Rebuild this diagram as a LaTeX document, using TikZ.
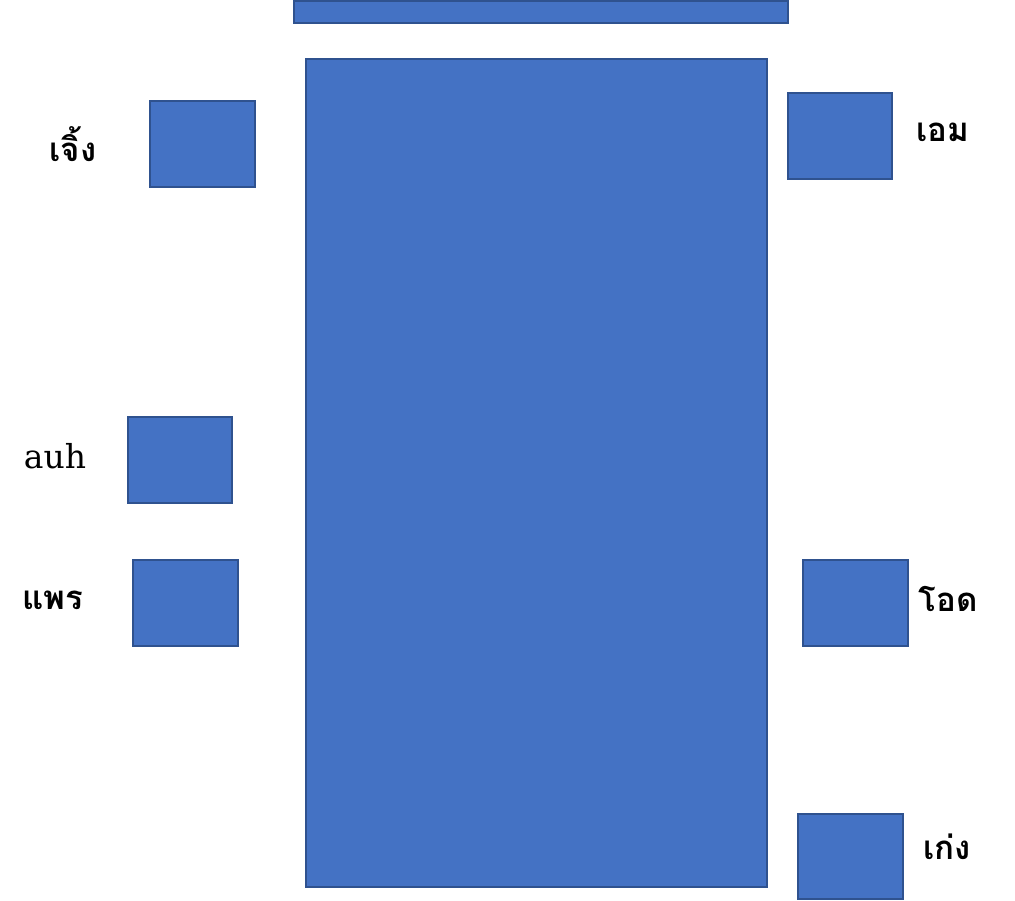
\documentclass[tikz,border=0pt]{standalone}
\usepackage{fontspec}
\newfontfamily\thaifont[Script=Thai]{Loma}
\newfontfamily\latfont{DejaVu Serif}
\definecolor{boxfill}{HTML}{4472C4}
\definecolor{boxline}{HTML}{2F528F}
\begin{document}
\begin{tikzpicture}[x=1pt,y=-1pt,
  blk/.style={draw=boxline,fill=boxfill,line width=1.5pt,inner sep=0pt,outer sep=0pt,anchor=north west},
  lbl/.style={font=\thaifont\bfseries\fontsize{33}{36}\selectfont,inner sep=0pt},
  latlbl/.style={font=\latfont\fontsize{33}{36}\selectfont,inner sep=0pt}]
\useasboundingbox (0,0) rectangle (1015,900);
\node[blk,minimum width=494pt,minimum height=22pt] (top) at (294,1) {};
\node[blk,minimum width=461pt,minimum height=828pt] (main) at (306,59) {};
\node[blk,minimum width=105pt,minimum height=86pt] (bj) at (150,101) {};
\node[blk,minimum width=104pt,minimum height=86pt] (be) at (788,93) {};
\node[blk,minimum width=104pt,minimum height=86pt] (ba) at (128,417) {};
\node[blk,minimum width=105pt,minimum height=86pt] (bp) at (133,560) {};
\node[blk,minimum width=105pt,minimum height=86pt] (bo) at (803,560) {};
\node[blk,minimum width=105pt,minimum height=85pt] (bk) at (798,814) {};
\node[lbl] (lj) at (73,144) {เจิ้ง};
\node[lbl] (le) at (943,132) {เอม};
\node[latlbl] (la) at (55,456) {auh};
\node[lbl] (lp) at (53,600) {แพร};
\node[lbl] (lo) at (948,599) {โอด};
\node[lbl] (lk) at (947,847) {เก่ง};
\end{tikzpicture}
\end{document}
